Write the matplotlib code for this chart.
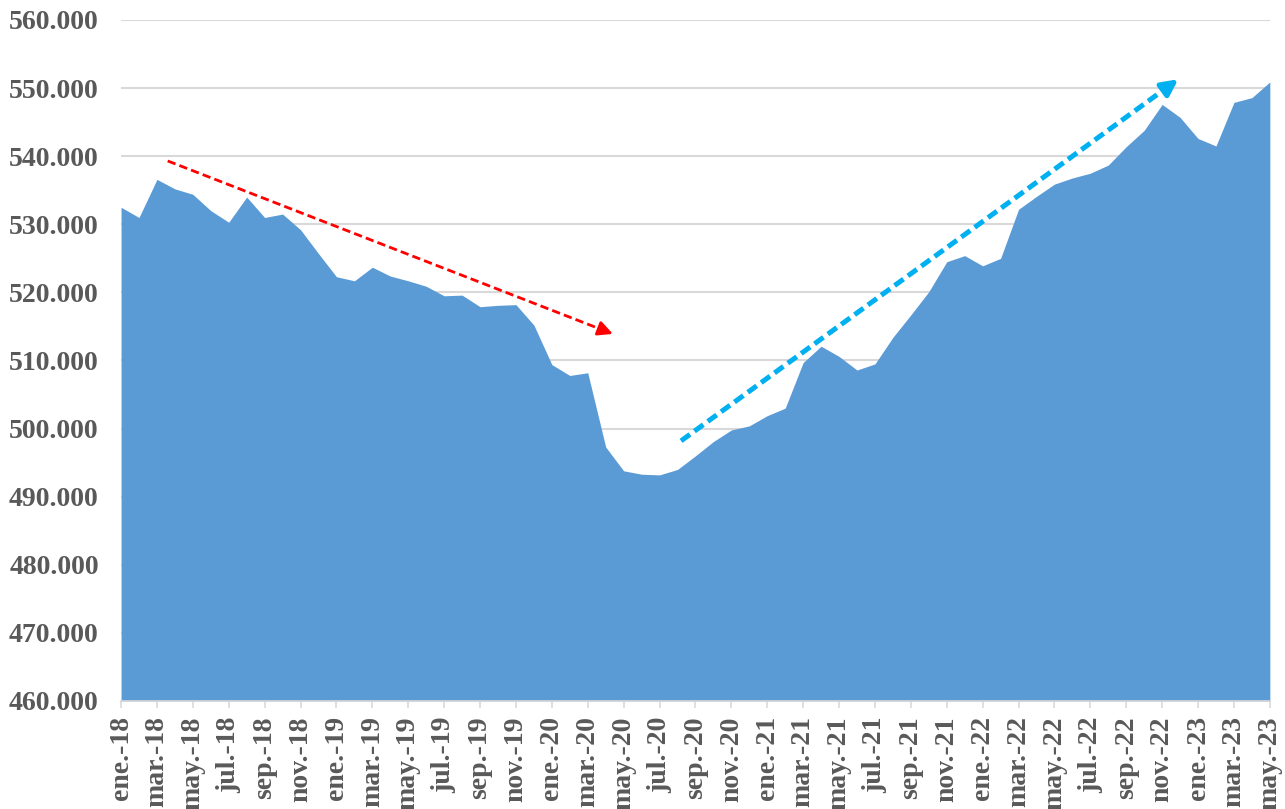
import matplotlib.pyplot as plt

# Monthly series ene.-18 .. may.-23 (thousands)
meses = ['ene.', 'feb.', 'mar.', 'abr.', 'may.', 'jun.',
         'jul.', 'ago.', 'sep.', 'oct.', 'nov.', 'dic.']
years = ['18', '19', '20', '21', '22', '23']
labels = [m + '-' + y for y in years for m in meses][:65]

values = [532.5, 531.0, 536.6, 535.2, 534.4, 532.0, 530.3, 534.0, 531.0, 531.5,
          529.2, 525.7, 522.3, 521.7, 523.7, 522.4, 521.7, 520.9, 519.5, 519.6,
          517.9, 518.1, 518.2, 515.2, 509.4, 507.8, 508.2, 497.3, 493.8, 493.3,
          493.2, 494.0, 496.0, 498.1, 499.8, 500.4, 501.9, 503.0, 509.7, 512.1,
          510.6, 508.6, 509.5, 513.4, 516.7, 520.1, 524.5, 525.4, 523.9, 525.0,
          532.2, 534.1, 535.9, 536.8, 537.5, 538.7, 541.4, 543.8, 547.6, 545.7,
          542.6, 541.5, 547.9, 548.6, 550.9]

# trend arrows (start, end) in data coords
red_arrow = [(2.6, 539.3), (27.4, 513.9)]
blue_arrow = [(31.2, 498.2), (58.9, 551.3)]

grey = '#595959'
font = {'family': 'Liberation Serif', 'weight': 'bold', 'color': grey}

fig = plt.figure(figsize=(12.85, 8.09), dpi=100)
ax = fig.add_axes([0.0942, 0.1335, 0.894, 0.8418])

x = list(range(len(values)))
ax.fill_between(x, 460, values, color='#5b9bd5', linewidth=0, zorder=2)

ax.set_xlim(0, len(values) - 1)
ax.set_ylim(460, 560)
ax.set_yticks(range(460, 561, 10))
ax.set_yticklabels([f'{v}.000' for v in range(460, 561, 10)], fontdict=font, fontsize=20)
ax.set_xticks(x[::2])
ax.set_xticklabels(labels[::2], fontdict=font, fontsize=20, rotation=90)

ax.grid(axis='y', color='#d9d9d9', linewidth=1.5, zorder=0)
for s in ['top', 'right', 'left']:
    ax.spines[s].set_visible(False)
ax.spines['bottom'].set_color('#d9d9d9')
ax.spines['bottom'].set_linewidth(1.2)
ax.tick_params(axis='y', length=0, pad=16)
ax.tick_params(axis='x', length=5, color='#d9d9d9', width=1.2, pad=6)

def trend(pts, color, lw, dash, head):
    (x0, y0), (x1, y1) = pts
    f = 0.97
    xm, ym = x0 + (x1 - x0) * f, y0 + (y1 - y0) * f
    ax.plot([x0, xm], [y0, ym], color=color, linewidth=lw, dashes=dash, zorder=4)
    ax.annotate('', xy=(x1, y1), xytext=(xm, ym),
                arrowprops=dict(arrowstyle='-|>', color=color, lw=lw,
                                mutation_scale=head, shrinkA=0, shrinkB=0),
                zorder=5)

trend(red_arrow, 'red', 2.0, (3, 1.5), 22)
trend(blue_arrow, '#00b0f0', 3.6, (2.2, 1.1), 24)

fig.savefig('out.png', dpi=100)
